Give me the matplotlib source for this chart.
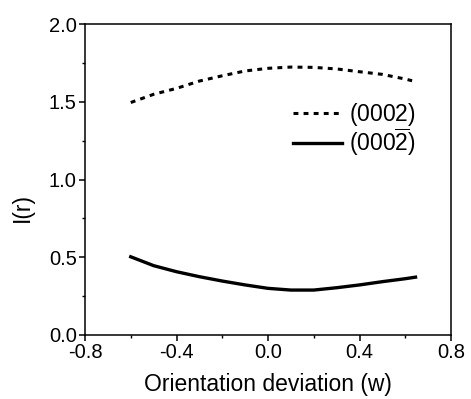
import numpy as np
import matplotlib
matplotlib.use('Agg')
import matplotlib.pyplot as plt
from matplotlib.ticker import MultipleLocator

plt.rcParams['font.family'] = ['Liberation Sans', 'DejaVu Sans']
plt.rcParams['mathtext.fontset'] = 'custom'
plt.rcParams['mathtext.rm'] = 'Liberation Sans'
plt.rcParams['mathtext.it'] = 'Liberation Sans'

# orientation deviation w
w_0002 = [-0.6, -0.5, -0.4, -0.3, -0.2, -0.1, 0.0, 0.1, 0.2, 0.3, 0.4, 0.5, 0.6, 0.63]
i_0002 = [1.495, 1.548, 1.586, 1.633, 1.667, 1.698, 1.715, 1.723, 1.721, 1.711, 1.693, 1.676, 1.646, 1.635]

w_000m2 = [-0.6, -0.5, -0.4, -0.3, -0.2, -0.1, 0.0, 0.1, 0.2, 0.3, 0.4, 0.5, 0.6, 0.645]
i_000m2 = [0.503, 0.446, 0.407, 0.375, 0.347, 0.322, 0.300, 0.289, 0.289, 0.304, 0.322, 0.343, 0.362, 0.372]

labels = [r'$\mathrm{(0002)}$', r'$\mathrm{(000\overline{2})}$']
xtick_labels = ['-0.8', '-0.4', '0.0', '0.4', '0.8']

fig = plt.figure(figsize=(4.71, 3.99), dpi=100)
ax = fig.add_axes([85 / 471, 1 - 335 / 399, 366 / 471, 311 / 399])

ax.plot(w_0002, i_0002, color='black', lw=2.2, linestyle=(0, (1.6, 1.7)),
        dash_capstyle='butt', label=labels[0])
ax.plot(w_000m2, i_000m2, color='black', lw=2.4, linestyle='-', label=labels[1])

ax.set_xlim(-0.8, 0.8)
ax.set_ylim(0.0, 2.0)
ax.set_xticks(np.arange(-0.8, 0.81, 0.4))
ax.set_xticklabels(xtick_labels)
ax.xaxis.set_minor_locator(MultipleLocator(0.2))
ax.yaxis.set_major_locator(MultipleLocator(0.5))
ax.yaxis.set_minor_locator(MultipleLocator(0.25))

ax.tick_params(which='major', direction='out', length=4, width=1.1, labelsize=14.5, pad=2)
ax.tick_params(which='minor', direction='out', length=2.5, width=1.0)
for s in ax.spines.values():
    s.set_linewidth(1.1)

ax.set_xlabel('Orientation deviation (w)', fontsize=16.5, labelpad=8)
ax.set_ylabel('I(r)', fontsize=16.5)
ax.yaxis.set_label_coords(-0.14, 0.41)

ax.legend(loc='upper left', bbox_to_anchor=(0.568, 0.752), frameon=False,
          fontsize=16.5, handlelength=2.15, handletextpad=0.28,
          labelspacing=-0.08, borderpad=0, borderaxespad=0)

fig.savefig('out.png', dpi=100)
